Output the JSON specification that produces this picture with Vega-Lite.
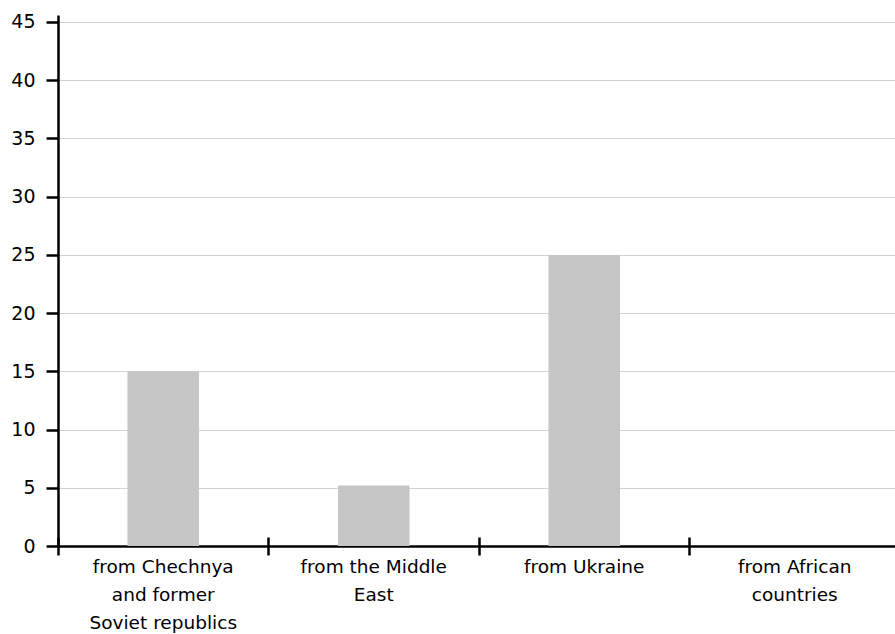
{
  "$schema": "https://vega.github.io/schema/vega-lite/v6.json",
  "width": 842,
  "height": 531,
  "autosize": {"type": "none"},
  "padding": {"left": 58, "top": 15, "right": 0, "bottom": 88},
  "background": "white",
  "config": {
    "view": {"stroke": null},
    "axis": {"labelFont": "DejaVu Sans", "labelFontSize": 18.5, "labelColor": "#000"}
  },
  "data": {
    "values": [
      {"origin": "from Chechnya and former Soviet republics", "value": 15},
      {"origin": "from the Middle East", "value": 5.2},
      {"origin": "from Ukraine", "value": 25},
      {"origin": "from African countries", "value": 0}
    ]
  },
  "layer": [
    {
      "mark": {"type": "bar", "color": "#c6c6c6"},
      "encoding": {
        "x": {
          "field": "origin", "type": "nominal", "sort": null,
          "scale": {"paddingInner": 0.66, "paddingOuter": 0.33},
          "axis": {
            "title": null, "labelAngle": 0, "ticks": false,
            "domainColor": "#000", "domainWidth": 2.5,
            "labelPadding": 11, "labelLineHeight": 28, "labelBaseline": "top",
            "labelLimit": 0,
            "labelExpr": "datum.value == 'from Chechnya and former Soviet republics' ? ['from Chechnya', 'and former', 'Soviet republics'] : datum.value == 'from the Middle East' ? ['from the Middle', 'East'] : datum.value == 'from African countries' ? ['from African', 'countries'] : datum.value"
          }
        },
        "y": {
          "field": "value", "type": "quantitative",
          "scale": {"domain": [0, 45.6], "nice": false},
          "axis": {
            "title": null, "values": [0, 5, 10, 15, 20, 25, 30, 35, 40, 45],
            "domainColor": "#000", "domainWidth": 2.5,
            "tickColor": "#000", "tickWidth": 2.5, "tickSize": 12,
            "labelPadding": 11, "labelFontSize": 19,
            "gridColor": "#d3d3d3", "gridWidth": 1.2
          }
        }
      }
    },
    {
      "mark": {"type": "bar", "opacity": 0},
      "encoding": {
        "x": {
          "field": "origin", "type": "nominal", "sort": null,
          "scale": {"paddingInner": 0, "paddingOuter": 0},
          "axis": {
            "orient": "bottom", "title": null, "labels": false, "domain": false,
            "ticks": true, "bandPosition": 0, "tickSize": 18, "tickWidth": 2.5,
            "tickColor": "#000", "offset": -9
          }
        },
        "y": {"field": "value", "type": "quantitative"}
      }
    }
  ],
  "resolve": {"scale": {"x": "independent"}, "axis": {"x": "independent"}}
}
